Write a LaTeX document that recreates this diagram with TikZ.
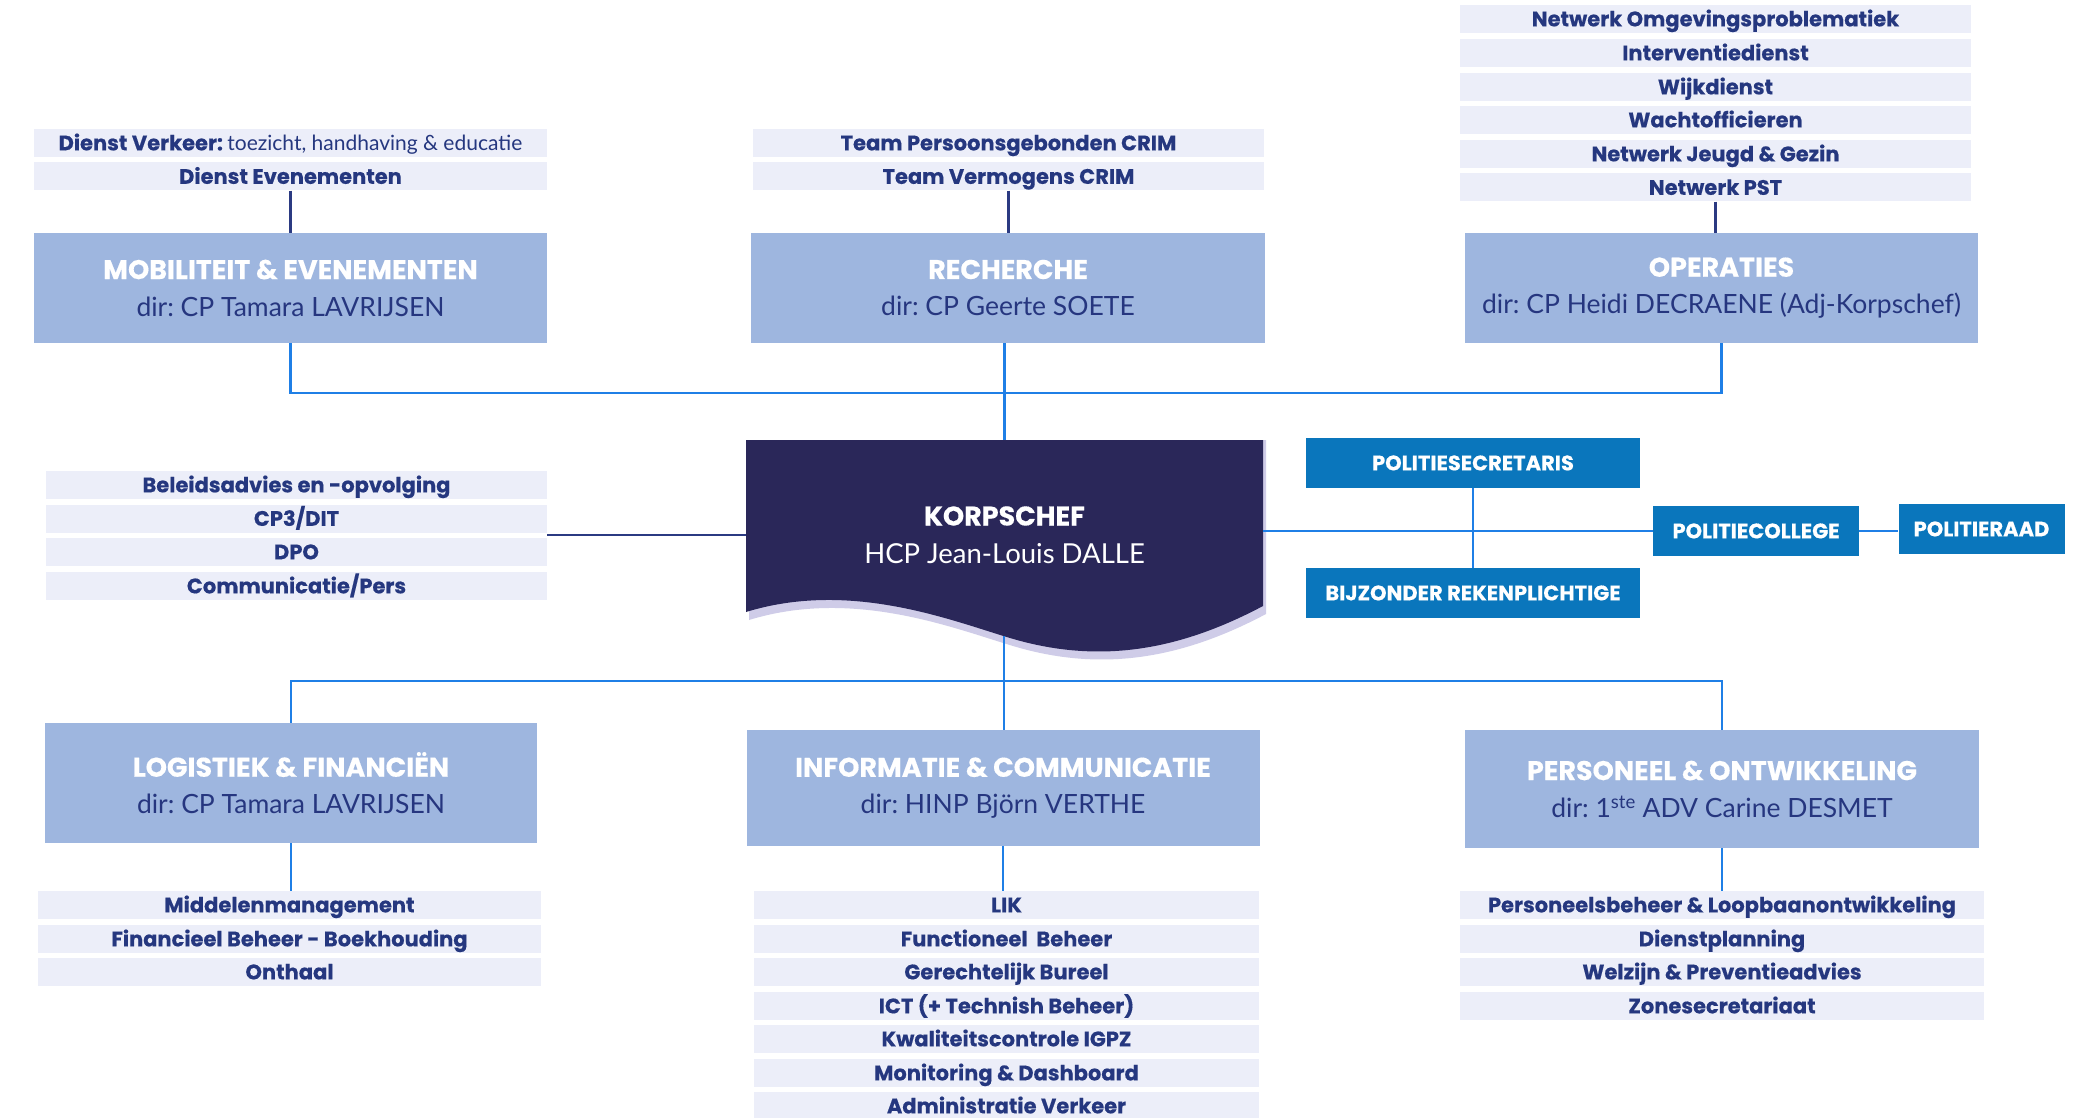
\documentclass[tikz,border=0pt]{standalone}
\usepackage{fontspec}
\setmainfont{Lato}
\newfontfamily\popfont{Poppins}[BoldFeatures={FakeBold=0.4}]
\frenchspacing

\definecolor{itembg}{HTML}{ECEEF9}
\definecolor{itemtext}{HTML}{25377F}
\definecolor{dirbg}{HTML}{9EB6DF}
\definecolor{dirtext}{HTML}{26367F}
\definecolor{korpsbg}{HTML}{2A2759}
\definecolor{wavesh}{HTML}{CFCCE8}
\definecolor{polbg}{HTML}{0A76BC}
\definecolor{busblue}{HTML}{1F7FE6}
\definecolor{navyc}{HTML}{2B3A82}

\tikzset{
  item/.style={rectangle, fill=itembg, inner sep=0pt, minimum height=28pt,
    text height=14.7pt, text depth=0pt, text=itemtext,
    font=\popfont\bfseries\fontsize{21}{24}\selectfont},
  dirbox/.style={rectangle, fill=dirbg, inner sep=0pt, minimum height=110pt,
    align=center, text=dirtext, font=\fontsize{26.5}{37}\selectfont},
  polbox/.style={rectangle, fill=polbg, inner sep=0pt, minimum height=50pt,
    text height=14.7pt, text depth=0pt, text=white,
    font=\popfont\bfseries\fontsize{21}{24}\selectfont},
  navyline/.style={draw=navyc, line width=2.5pt},
  busline/.style={draw=busblue, line width=2.5pt},
}
\newcommand{\dirtitle}[1]{{\popfont\bfseries\fontsize{27}{37}\selectfont\color{white}#1}}

\begin{document}
\begin{tikzpicture}[x=1pt,y=-1pt]
  \useasboundingbox (0,0) rectangle (2087,1118);
  \fill[white] (0,0) rectangle (2087,1118);

  % directies boven
  \node[item, minimum width=513pt] (mob1) at (290.5,143)
    {Dienst Verkeer: {\mdseries\normalfont\fontsize{21}{24}\selectfont toezicht, handhaving \& educatie}};
  \node[item, minimum width=513pt] (mob2) at (290.5,176.5) {Dienst Evenementen};
  \node[dirbox, minimum width=513pt] (mob) at (290.5,288)
    {\dirtitle{MOBILITEIT \& EVENEMENTEN}\\dir: CP Tamara LAVRIJSEN};

  \node[item, minimum width=511pt] (rec1) at (1008.5,143) {Team Persoonsgebonden CRIM};
  \node[item, minimum width=511pt] (rec2) at (1008.5,176.5) {Team Vermogens CRIM};
  \node[dirbox, minimum width=514pt] (rech) at (1008,288)
    {\dirtitle{RECHERCHE}\\dir: CP Geerte SOETE};

  \node[item, minimum width=511pt] (ops1) at (1715.5,19) {Netwerk Omgevingsproblematiek};
  \node[item, minimum width=511pt] (ops2) at (1715.5,53) {Interventiedienst};
  \node[item, minimum width=511pt] (ops3) at (1715.5,87) {Wijkdienst};
  \node[item, minimum width=511pt] (ops4) at (1715.5,120) {Wachtofficieren};
  \node[item, minimum width=511pt] (ops5) at (1715.5,154) {Netwerk Jeugd \& Gezin};
  \node[item, minimum width=511pt] (ops6) at (1715.5,187.5) {Netwerk PST};
  \node[dirbox, minimum width=513pt] (ops) at (1721.5,288)
    {\dirtitle{OPERATIES}\\dir: CP Heidi DECRAENE (Adj-Korpschef)};

  \draw[navyline] (mob2.south) -- (mob2.south |- mob.north);
  \draw[navyline] (rec2.south) -- (rec2.south |- rech.north);
  \draw[navyline] (ops6.south) -- (ops6.south |- ops.north);

  % korpschef
  \fill[wavesh] (749,440) -- (1266,440) -- (1266,614)
    .. controls (1183,658) and (1103,673) .. (1013,646)
    .. controls (953,628) and (853,588) .. (749,620) -- cycle;
  \fill[korpsbg] (746,440) -- (1263,440) -- (1263,606)
    .. controls (1180,650) and (1100,665) .. (1010,638)
    .. controls (950,620) and (850,580) .. (746,612) -- cycle;
  \node[inner sep=0pt, minimum width=517pt, minimum height=190pt, align=center,
    text=white, font=\fontsize{27.5}{38}\selectfont] (korps) at (1004.5,535)
    {\dirtitle{KORPSCHEF}\\HCP Jean-Louis DALLE};
  \coordinate (korpsbot) at (1004,636);

  \coordinate (topbus) at (1004,393);
  \draw[busline] (mob.south) |- (topbus) -| (ops.south);
  \draw[busline] (rech.south -| korps.north) -- (korps.north);

  % staf links
  \node[item, minimum width=501pt] (staf1) at (296.5,485) {Beleidsadvies en -opvolging};
  \node[item, minimum width=501pt] (staf2) at (296.5,518.5) {CP3/DIT};
  \node[item, minimum width=501pt] (staf3) at (296.5,552) {DPO};
  \node[item, minimum width=501pt] (staf4) at (296.5,586) {Communicatie/Pers};
  \draw[navyline] (staf2.east |- korps.west) -- (korps.west);

  % politie rechts
  \node[polbox, minimum width=334pt] (psec) at (1473,463) {POLITIESECRETARIS};
  \node[polbox, minimum width=334pt] (brek) at (1473,593) {BIJZONDER REKENPLICHTIGE};
  \node[polbox, minimum width=206pt] (pc) at (1756,531) {POLITIECOLLEGE};
  \node[polbox, minimum width=166pt] (praad) at (1981.5,529) {POLITIERAAD};
  \draw[busline] (korps.east |- pc.west) -- (pc.west);
  \draw[busline] (psec.south) -- (brek.north);
  \draw[busline] (pc.east) -- (pc.east -| praad.west);

  % directies onder
  \node[dirbox, minimum width=492pt, minimum height=120pt] (log) at (291,783)
    {\dirtitle{LOGISTIEK \& FINANCIËN}\\dir: CP Tamara LAVRIJSEN};
  \node[item, minimum width=503pt] (log1) at (289.5,905) {Middelenmanagement};
  \node[item, minimum width=503pt] (log2) at (289.5,939) {Financieel Beheer - Boekhouding};
  \node[item, minimum width=503pt] (log3) at (289.5,972) {Onthaal};

  \node[dirbox, minimum width=513pt, minimum height=116pt] (info) at (1003,788)
    {\dirtitle{INFORMATIE \& COMMUNICATIE}\\dir: HINP Björn VERTHE};
  \node[item, minimum width=505pt] (inf1) at (1006.5,905) {LIK};
  \node[item, minimum width=505pt] (inf2) at (1006.5,939) {Functioneel\ \ Beheer};
  \node[item, minimum width=505pt] (inf3) at (1006.5,972) {Gerechtelijk Bureel};
  \node[item, minimum width=505pt] (inf4) at (1006.5,1006) {ICT (+ Technish Beheer)};
  \node[item, minimum width=505pt] (inf5) at (1006.5,1039) {Kwaliteitscontrole IGPZ};
  \node[item, minimum width=505pt] (inf6) at (1006.5,1073) {Monitoring \& Dashboard};
  \node[item, minimum width=505pt] (inf7) at (1006.5,1106) {Administratie Verkeer};

  \node[dirbox, minimum width=514pt, minimum height=118pt] (pers) at (1722,789)
    {\dirtitle{PERSONEEL \& ONTWIKKELING}\\dir: 1\textsuperscript{ste} ADV Carine DESMET};
  \node[item, minimum width=524pt] (per1) at (1722,905) {Personeelsbeheer \& Loopbaanontwikkeling};
  \node[item, minimum width=524pt] (per2) at (1722,939) {Dienstplanning};
  \node[item, minimum width=524pt] (per3) at (1722,972) {Welzijn \& Preventieadvies};
  \node[item, minimum width=524pt] (per4) at (1722,1006) {Zonesecretariaat};

  \coordinate (botbus) at (1004,681);
  \draw[busline] (korpsbot) -- (korpsbot |- info.north);
  \draw[busline] (log.north) |- (botbus) -| (pers.north);
  \draw[busline] (log.south) -- (log.south |- log1.north);
  \draw[busline] (info.south) -- (info.south |- inf1.north);
  \draw[busline] (pers.south) -- (pers.south |- per1.north);
\end{tikzpicture}
\end{document}
